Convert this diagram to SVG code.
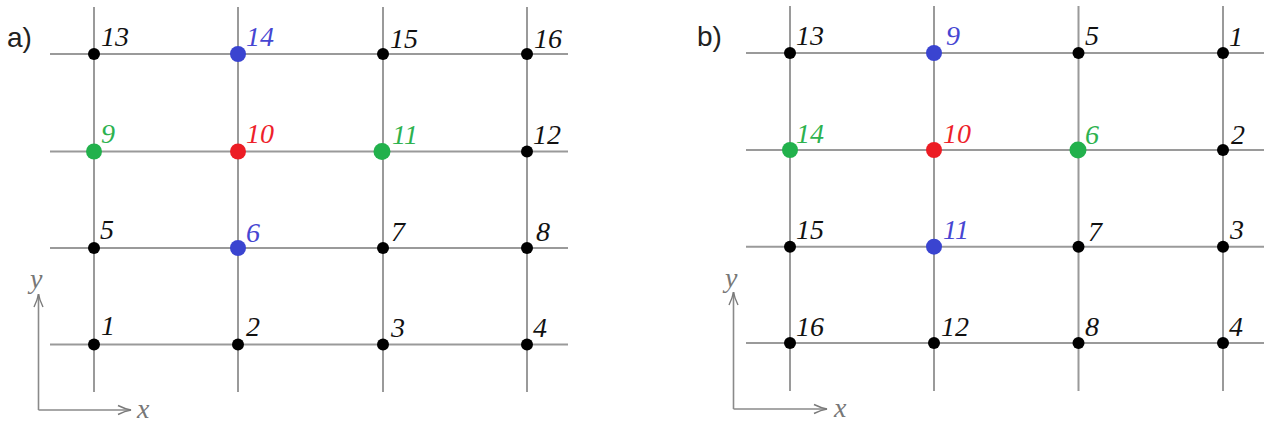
<svg xmlns="http://www.w3.org/2000/svg" width="1268" height="425" viewBox="0 0 1268 425">
<defs>
<style>
.grid{stroke:#9a9a9a;stroke-width:2;fill:none}
.axis{stroke:#8a8a8a;stroke-width:1.6;fill:none}
.dk{fill:#000}
.bl{fill:#3a44d0}
.rd{fill:#ec1c24}
.gn{fill:#22b14c}
.lbl{font-family:"Liberation Serif",serif;font-style:italic;font-size:28px}
.tk{fill:#111}
.tb{fill:#4646d2}
.tr{fill:#ee1f2c}
.tg{fill:#2db24f}
.ax{font-family:"Liberation Serif",serif;font-style:italic;font-size:28px;fill:#777}
.pl{font-family:"Liberation Sans",sans-serif;font-size:28px;fill:#222}
</style>
<marker id="ah" markerWidth="16" markerHeight="12" refX="14" refY="6" orient="auto" markerUnits="userSpaceOnUse">
<path d="M1,1.5 Q8,5 14,6 Q8,7 1,10.5" fill="none" stroke="#7a7a7a" stroke-width="1.4"/>
</marker>
</defs>
<rect width="1268" height="425" fill="#fff"/>

<text class="pl" x="7" y="47">a)</text>
<text class="pl" x="697" y="46">b)</text>

<g id="connectors">
<g id="grid-a">
<line class="grid" x1="94" y1="7" x2="94" y2="392"/>
<line class="grid" x1="238" y1="7" x2="238" y2="392"/>
<line class="grid" x1="383" y1="7" x2="383" y2="392"/>
<line class="grid" x1="527" y1="7" x2="527" y2="392"/>
<line class="grid" x1="50" y1="54" x2="568" y2="54"/>
<line class="grid" x1="50" y1="151.5" x2="568" y2="151.5"/>
<line class="grid" x1="50" y1="248" x2="568" y2="248"/>
<line class="grid" x1="50" y1="344.5" x2="568" y2="344.5"/>
</g>
<g id="grid-b">
<line class="grid" x1="790" y1="6" x2="790" y2="391"/>
<line class="grid" x1="934" y1="6" x2="934" y2="391"/>
<line class="grid" x1="1078.5" y1="6" x2="1078.5" y2="391"/>
<line class="grid" x1="1223" y1="6" x2="1223" y2="391"/>
<line class="grid" x1="746" y1="53" x2="1264" y2="53"/>
<line class="grid" x1="746" y1="150" x2="1264" y2="150"/>
<line class="grid" x1="746" y1="246.7" x2="1264" y2="246.7"/>
<line class="grid" x1="746" y1="343" x2="1264" y2="343"/>
</g>
<g id="axes-a">
<line class="axis" x1="38.5" y1="410" x2="38.5" y2="294" marker-end="url(#ah)"/>
<line class="axis" x1="38.5" y1="410" x2="131" y2="410" marker-end="url(#ah)"/>
</g>
<g id="axes-b">
<line class="axis" x1="733.5" y1="409" x2="733.5" y2="292" marker-end="url(#ah)"/>
<line class="axis" x1="733.5" y1="409" x2="827" y2="409" marker-end="url(#ah)"/>
</g>
</g>

<text class="ax" x="30" y="288">y</text>
<text class="ax" x="137" y="418">x</text>
<text class="ax" x="725" y="287">y</text>
<text class="ax" x="834" y="417">x</text>

<!-- panel a -->
<g id="a-n13"><circle class="dk" cx="94" cy="54" r="6"/><text class="lbl tk" x="101" y="46">13</text></g>
<g id="a-n14"><circle class="bl" cx="238" cy="54" r="8"/><text class="lbl tb" x="246" y="46">14</text></g>
<g id="a-n15"><circle class="dk" cx="383" cy="54" r="6"/><text class="lbl tk" x="390" y="48">15</text></g>
<g id="a-n16"><circle class="dk" cx="527" cy="54" r="6"/><text class="lbl tk" x="534" y="48">16</text></g>
<g id="a-n9"><circle class="gn" cx="94" cy="151.5" r="8"/><text class="lbl tg" x="101" y="143">9</text></g>
<g id="a-n10"><circle class="rd" cx="238" cy="151.5" r="8"/><text class="lbl tr" x="246" y="143">10</text></g>
<g id="a-n11"><circle class="gn" cx="382" cy="151.5" r="8.5"/><text class="lbl tg" x="392" y="144">11</text></g>
<g id="a-n12"><circle class="dk" cx="527" cy="151.5" r="6"/><text class="lbl tk" x="533" y="144">12</text></g>
<g id="a-n5"><circle class="dk" cx="94" cy="248" r="6"/><text class="lbl tk" x="100" y="239">5</text></g>
<g id="a-n6"><circle class="bl" cx="238" cy="248" r="8"/><text class="lbl tb" x="246" y="242">6</text></g>
<g id="a-n7"><circle class="dk" cx="383" cy="248" r="6"/><text class="lbl tk" x="391" y="241">7</text></g>
<g id="a-n8"><circle class="dk" cx="527" cy="248" r="6"/><text class="lbl tk" x="536" y="241">8</text></g>
<g id="a-n1"><circle class="dk" cx="94" cy="344.5" r="6"/><text class="lbl tk" x="101" y="335">1</text></g>
<g id="a-n2"><circle class="dk" cx="238" cy="344.5" r="6"/><text class="lbl tk" x="246" y="336">2</text></g>
<g id="a-n3"><circle class="dk" cx="383" cy="344.5" r="6"/><text class="lbl tk" x="391" y="337">3</text></g>
<g id="a-n4"><circle class="dk" cx="527" cy="344.5" r="6"/><text class="lbl tk" x="533" y="337">4</text></g>

<!-- panel b -->
<g id="b-n13"><circle class="dk" cx="790" cy="53" r="6"/><text class="lbl tk" x="796" y="45">13</text></g>
<g id="b-n9"><circle class="bl" cx="934" cy="53" r="8"/><text class="lbl tb" x="946" y="45">9</text></g>
<g id="b-n5"><circle class="dk" cx="1078.5" cy="53" r="6"/><text class="lbl tk" x="1085" y="45">5</text></g>
<g id="b-n1"><circle class="dk" cx="1223" cy="53" r="6"/><text class="lbl tk" x="1229" y="46">1</text></g>
<g id="b-n14"><circle class="gn" cx="790" cy="150" r="8"/><text class="lbl tg" x="796" y="143">14</text></g>
<g id="b-n10"><circle class="rd" cx="934" cy="150" r="8"/><text class="lbl tr" x="943" y="143">10</text></g>
<g id="b-n6"><circle class="gn" cx="1078" cy="150" r="8.5"/><text class="lbl tg" x="1085" y="144">6</text></g>
<g id="b-n2"><circle class="dk" cx="1223" cy="150" r="6"/><text class="lbl tk" x="1231" y="144">2</text></g>
<g id="b-n15"><circle class="dk" cx="790" cy="246.7" r="6"/><text class="lbl tk" x="796" y="239">15</text></g>
<g id="b-n11"><circle class="bl" cx="934" cy="246.7" r="8"/><text class="lbl tb" x="943" y="239">11</text></g>
<g id="b-n7"><circle class="dk" cx="1078.5" cy="246.7" r="6"/><text class="lbl tk" x="1088" y="241">7</text></g>
<g id="b-n3"><circle class="dk" cx="1223" cy="246.7" r="6"/><text class="lbl tk" x="1230" y="239">3</text></g>
<g id="b-n16"><circle class="dk" cx="790" cy="343" r="6"/><text class="lbl tk" x="796" y="336">16</text></g>
<g id="b-n12"><circle class="dk" cx="934" cy="343" r="6"/><text class="lbl tk" x="941" y="336">12</text></g>
<g id="b-n8"><circle class="dk" cx="1078.5" cy="343" r="6"/><text class="lbl tk" x="1085" y="336">8</text></g>
<g id="b-n4"><circle class="dk" cx="1223" cy="343" r="6"/><text class="lbl tk" x="1229" y="336">4</text></g>
</svg>
